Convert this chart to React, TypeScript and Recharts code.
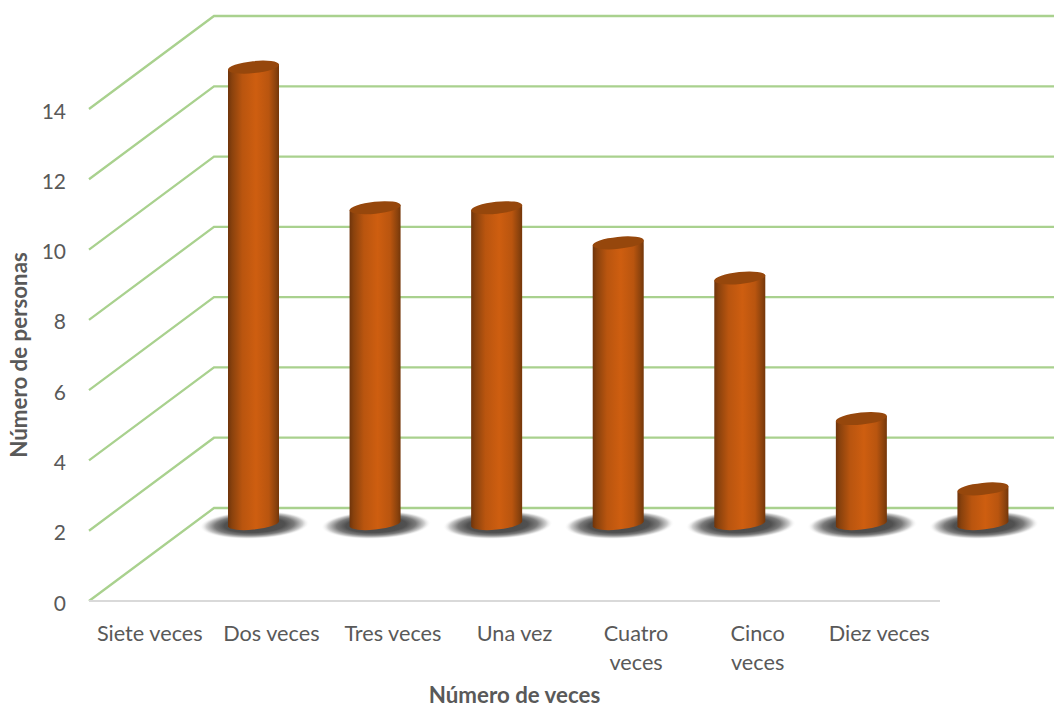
import { BarChart, Bar, XAxis, YAxis, CartesianGrid } from "recharts"

const categories = ["Siete veces", "Dos veces", "Tres veces", "Una vez", "Cuatro veces", "Cinco veces", "Diez veces"]
const personas = [13, 9, 9, 8, 7, 3, 1]
const yTicks = [0, 2, 4, 6, 8, 10, 12, 14]
const twoLineLabels = ["Cuatro veces", "Cinco veces"]

const data = categories.map((veces, i) => ({ veces, personas: personas[i] }))

const textColor = "#595959"
const gridColor = "#a9d18e"
const fontFamily = "Lato, sans-serif"

// the floor runs back from the front axis to the back wall
const WALL_X = 125
const WALL_Y = 93
// cylinders stand most of the way back on the floor
const BAR_DX = 104
const BAR_DY = 77
const RX = 25.7
const RY = 6
const TILT = -6
const SIDE_DROP = 2.6

function GridLine(props: any) {
  const { x1, y1, x2 } = props
  const backX = x1 + WALL_X
  const backY = y1 - WALL_Y
  return (
    <polyline
      key={y1}
      points={`${x1},${y1} ${backX},${backY} ${x2 + WALL_X},${backY}`}
      fill="none"
      stroke={gridColor}
      strokeWidth={2.3}
    />
  )
}

function Cylinder(props: any) {
  const { x, y, width, height } = props
  const cx = x + width / 2 + BAR_DX
  const top = y - BAR_DY
  const base = y + height - BAR_DY
  const left = cx - width / 2
  const right = cx + width / 2
  return (
    <g>
      <ellipse
        cx={cx + 1}
        cy={base + 1}
        rx={55}
        ry={14}
        transform={`rotate(-2 ${cx} ${base})`}
        fill="url(#floorShadow)"
      />
      <path
        d={`M${left},${top + SIDE_DROP} L${left},${base + SIDE_DROP} A${RX},${RY} ${TILT} 0 0 ${right},${base - SIDE_DROP} L${right},${top - SIDE_DROP} Z`}
        fill="url(#cylinderBody)"
      />
      <ellipse cx={cx} cy={top} rx={RX} ry={RY} transform={`rotate(${TILT} ${cx} ${top})`} fill="#96470c" />
    </g>
  )
}

function CategoryTick(props: any) {
  const { x, y, payload } = props
  const lines = twoLineLabels.includes(payload.value) ? payload.value.split(" ") : [payload.value]
  return (
    <text x={x} y={y} textAnchor="middle" fill={textColor} fontSize={21.7} fontFamily={fontFamily}>
      {lines.map((line: string, i: number) => (
        <tspan key={line} x={x} dy={i === 0 ? 0 : 29}>
          {line}
        </tspan>
      ))}
    </text>
  )
}

function ValueTick(props: any) {
  const { x, y, payload } = props
  return (
    <text x={x} y={y + 9.5} textAnchor="end" fill={textColor} fontSize={21} fontFamily={fontFamily}>
      {payload.value}
    </text>
  )
}

export default function App() {
  return (
    <div style={{ position: "absolute", left: 0, top: 0 }}>
      <BarChart
        width={1054}
        height={709}
        data={data}
        margin={{ top: 109, right: 114, bottom: 0, left: 0 }}
        style={{ fontFamily }}
      >
        <defs>
          <linearGradient id="cylinderBody" x1="0" y1="0" x2="1" y2="0">
            <stop offset="0" stopColor="#6f340b" />
            <stop offset="0.08" stopColor="#8a420d" />
            <stop offset="0.28" stopColor="#b9550f" />
            <stop offset="0.55" stopColor="#ce5e10" />
            <stop offset="0.8" stopColor="#b9550f" />
            <stop offset="0.94" stopColor="#8a420d" />
            <stop offset="1" stopColor="#743609" />
          </linearGradient>
          <radialGradient id="floorShadow">
            <stop offset="0" stopColor="#454545" />
            <stop offset="0.55" stopColor="#505050" />
            <stop offset="0.72" stopColor="#7a7a7a" />
            <stop offset="0.88" stopColor="#d0d0d0" />
            <stop offset="1" stopColor="#ffffff" stopOpacity="0" />
          </radialGradient>
        </defs>
        <CartesianGrid vertical={false} horizontal={GridLine} />
        <XAxis
          dataKey="veces"
          height={108}
          interval={0}
          tickLine={false}
          axisLine={{ stroke: "#d9d9d9", strokeWidth: 2 }}
          tick={CategoryTick}
          tickMargin={34}
          label={{
            value: "Número de veces",
            position: "insideBottom",
            offset: 6,
            fill: textColor,
            fontSize: 22.3,
            fontWeight: 700,
          }}
        />
        <YAxis
          width={89}
          domain={[0, 14]}
          ticks={yTicks}
          tickLine={false}
          axisLine={false}
          tickMargin={17}
          tick={ValueTick}
          label={{
            value: "Número de personas",
            angle: -90,
            position: "insideLeft",
            offset: 19,
            fill: textColor,
            fontSize: 22.3,
            fontWeight: 700,
            style: { textAnchor: "middle" },
          }}
        />
        <Bar dataKey="personas" barSize={51} shape={Cylinder} isAnimationActive={false} />
      </BarChart>
    </div>
  )
}
